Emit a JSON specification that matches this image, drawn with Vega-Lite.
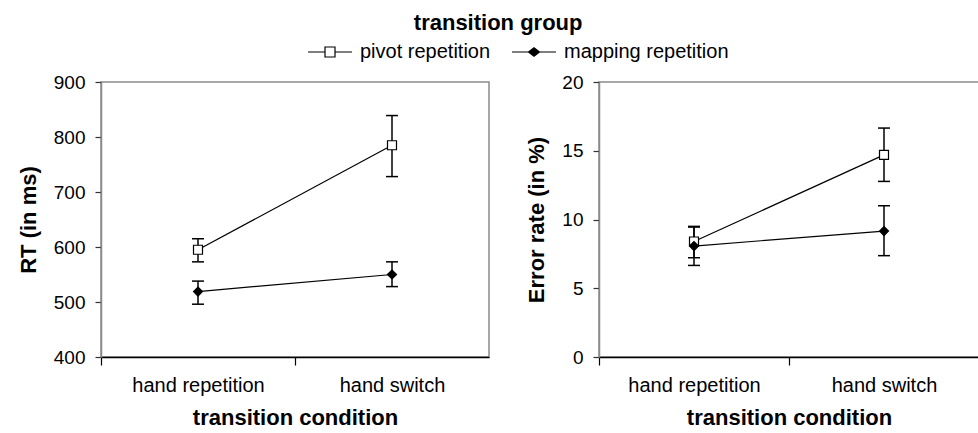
{
  "$schema": "https://vega.github.io/schema/vega-lite/v6.json",
  "padding": {"left": 16, "top": 12, "right": 0, "bottom": 0},
  "background": "white",
  "title": {"text": "transition group", "fontSize": 22, "font": "Liberation Sans", "fontWeight": "bold", "color": "black", "anchor": "middle", "offset": 7, "dx": 0},
  "config": {
    "font": "Liberation Sans",
    "view": {"stroke": "#8a8a8a", "strokeWidth": 1.5},
    "axis": {"labelFont": "Liberation Sans", "titleFont": "Liberation Sans", "labelColor": "black", "titleColor": "black", "grid": false, "titleFontWeight": "bold", "titleFontSize": 22},
    "legend": {"labelFont": "Liberation Sans", "labelColor": "black"}
  },
  "datasets": {
    "rt": [
      {"group": "pivot repetition", "cond": "hand repetition", "mean": 595, "lo": 573, "hi": 615},
      {"group": "pivot repetition", "cond": "hand switch", "mean": 785, "lo": 728, "hi": 839},
      {"group": "mapping repetition", "cond": "hand repetition", "mean": 519, "lo": 496, "hi": 538},
      {"group": "mapping repetition", "cond": "hand switch", "mean": 550, "lo": 528, "hi": 573}
    ],
    "err": [
      {"group": "pivot repetition", "cond": "hand repetition", "mean": 8.4, "lo": 7.22, "hi": 9.5},
      {"group": "pivot repetition", "cond": "hand switch", "mean": 14.7, "lo": 12.77, "hi": 16.65},
      {"group": "mapping repetition", "cond": "hand repetition", "mean": 8.07, "lo": 6.66, "hi": 9.45},
      {"group": "mapping repetition", "cond": "hand switch", "mean": 9.16, "lo": 7.37, "hi": 11.0}
    ]
  },
  "spacing": 35,
  "hconcat": [
    {
      "width": 388,
      "height": 275,
      "data": {"name": "rt"},
      "encoding": {
        "x": {"field": "cond", "type": "nominal", "sort": ["hand repetition", "hand switch"],
          "scale": {"type": "band", "paddingInner": 0, "paddingOuter": 0},
          "axis": {"title": "transition condition", "labelAngle": 0, "tickOffset": -97, "labelOffset": 97, "tickSize": 8, "domainColor": "black", "domainWidth": 1.5, "tickColor": "black", "tickWidth": 1.2, "labelFontSize": 20, "labelPadding": 10, "titlePadding": 12}}
      },
      "layer": [
        {"mark": {"type": "rule", "color": "black", "strokeWidth": 1.5},
         "encoding": {"y": {"field": "lo", "type": "quantitative", "scale": {"domain": [400, 900], "nice": false, "zero": false},
            "axis": {"title": "RT (in ms)", "values": [400, 500, 600, 700, 800, 900], "tickSize": 6, "labelPadding": 10, "titlePadding": 13, "domainColor": "#8a8a8a", "domainWidth": 1.5, "tickColor": "#333", "tickWidth": 1.2, "labelFontSize": 19}},
           "y2": {"field": "hi"}}},
        {"mark": {"type": "tick", "color": "black", "thickness": 1.5, "size": 12, "opacity": 1},
         "encoding": {"y": {"field": "lo", "type": "quantitative"}}},
        {"mark": {"type": "tick", "color": "black", "thickness": 1.5, "size": 12, "opacity": 1},
         "encoding": {"y": {"field": "hi", "type": "quantitative"}}},
        {"mark": {"type": "line", "color": "black", "strokeWidth": 1.2},
         "encoding": {"y": {"field": "mean", "type": "quantitative"}, "detail": {"field": "group"}}},
        {"transform": [{"filter": {"field": "group", "equal": "pivot repetition"}}],
         "mark": {"type": "point", "shape": "square", "filled": true, "fill": "white", "stroke": "black", "strokeWidth": 1.2, "opacity": 1, "size": 81},
         "encoding": {"y": {"field": "mean", "type": "quantitative"}}},
        {"transform": [{"filter": {"field": "group", "equal": "mapping repetition"}}],
         "mark": {"type": "point", "shape": "diamond", "filled": true, "fill": "black", "stroke": "black", "strokeWidth": 1.2, "opacity": 1, "size": 81},
         "encoding": {"y": {"field": "mean", "type": "quantitative"}}},
        {"mark": {"type": "point", "filled": true, "opacity": 0, "size": 100},
         "encoding": {
           "y": {"field": "mean", "type": "quantitative"},
           "shape": {"field": "group", "type": "nominal",
             "scale": {"domain": ["pivot repetition", "mapping repetition"], "range": ["M-4.4,0H-1M1,0H4.4M-1,-1H1V1H-1Z", "M-4.4,0H4.4M-1.1,0L0,-0.85L1.1,0L0,0.85Z"]},
             "legend": {"title": null, "orient": "none", "legendX": 219, "legendY": -40, "direction": "horizontal", "symbolSize": 100, "symbolOpacity": 1, "labelFontSize": 20, "labelOffset": 20, "labelLimit": 400, "columnPadding": 18, "symbolStrokeColor": "black", "symbolStrokeWidth": 1.2}},
           "fill": {"field": "group", "type": "nominal",
             "scale": {"domain": ["pivot repetition", "mapping repetition"], "range": ["white", "black"]},
             "legend": {"title": null, "orient": "none", "legendX": 219, "legendY": -40, "direction": "horizontal", "symbolSize": 100, "symbolOpacity": 1, "labelFontSize": 20, "labelOffset": 20, "labelLimit": 400, "columnPadding": 18, "symbolStrokeColor": "black", "symbolStrokeWidth": 1.2}},
           "stroke": {"field": "group", "type": "nominal",
             "scale": {"domain": ["pivot repetition", "mapping repetition"], "range": ["black", "black"]},
             "legend": {"title": null, "orient": "none", "legendX": 219, "legendY": -40, "direction": "horizontal", "symbolSize": 100, "symbolOpacity": 1, "labelFontSize": 20, "labelOffset": 20, "labelLimit": 400, "columnPadding": 18, "symbolStrokeColor": "black", "symbolStrokeWidth": 1.2}}
         }}
      ]
    },
    {
      "width": 380,
      "height": 275,
      "data": {"name": "err"},
      "encoding": {
        "x": {"field": "cond", "type": "nominal", "sort": ["hand repetition", "hand switch"],
          "scale": {"type": "band", "paddingInner": 0, "paddingOuter": 0},
          "axis": {"title": "transition condition", "labelAngle": 0, "tickOffset": -95, "labelOffset": 95, "tickSize": 8, "domainColor": "black", "domainWidth": 1.5, "tickColor": "black", "tickWidth": 1.2, "labelFontSize": 20, "labelPadding": 10, "titlePadding": 12}}
      },
      "layer": [
        {"mark": {"type": "rule", "color": "black", "strokeWidth": 1.5},
         "encoding": {"y": {"field": "lo", "type": "quantitative", "scale": {"domain": [0, 20], "nice": false},
            "axis": {"title": "Error rate (in %)", "values": [0, 5, 10, 15, 20], "tickSize": 6, "labelPadding": 10, "titlePadding": 13, "domainColor": "#8a8a8a", "domainWidth": 1.5, "tickColor": "#333", "tickWidth": 1.2, "labelFontSize": 19}},
           "y2": {"field": "hi"}}},
        {"mark": {"type": "tick", "color": "black", "thickness": 1.5, "size": 12, "opacity": 1},
         "encoding": {"y": {"field": "lo", "type": "quantitative"}}},
        {"mark": {"type": "tick", "color": "black", "thickness": 1.5, "size": 12, "opacity": 1},
         "encoding": {"y": {"field": "hi", "type": "quantitative"}}},
        {"mark": {"type": "line", "color": "black", "strokeWidth": 1.2},
         "encoding": {"y": {"field": "mean", "type": "quantitative"}, "detail": {"field": "group"}}},
        {"transform": [{"filter": {"field": "group", "equal": "pivot repetition"}}],
         "mark": {"type": "point", "shape": "square", "filled": true, "fill": "white", "stroke": "black", "strokeWidth": 1.2, "opacity": 1, "size": 81},
         "encoding": {"y": {"field": "mean", "type": "quantitative"}}},
        {"transform": [{"filter": {"field": "group", "equal": "mapping repetition"}}],
         "mark": {"type": "point", "shape": "diamond", "filled": true, "fill": "black", "stroke": "black", "strokeWidth": 1.2, "opacity": 1, "size": 81},
         "encoding": {"y": {"field": "mean", "type": "quantitative"}}}
      ]
    }
  ]
}
